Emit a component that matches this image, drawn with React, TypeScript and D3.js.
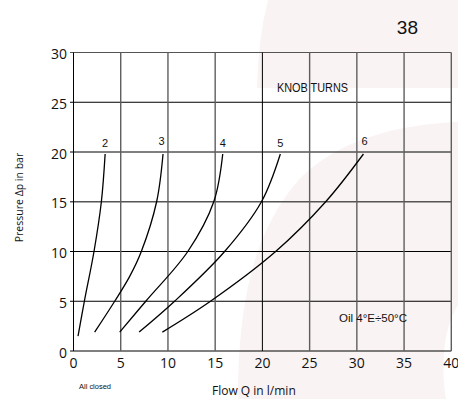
import React from "react";
import * as d3 from "d3";

const xTicks = [0, 5, 10, 15, 20, 25, 30, 35, 40];
const yTicks = [0, 5, 10, 15, 20, 25, 30];
const turnLabels = ["2", "3", "4", "5", "6"];
const curve2: [number, number][] = [[0.48, 1.5], [1.15, 5], [2.17, 10], [2.95, 15], [3.35, 19.8]];
const curve3: [number, number][] = [[2.24, 1.9], [4.36, 5], [5.95, 7.5], [7.18, 10], [8.8, 15], [9.48, 19.8]];
const curve4: [number, number][] = [[4.89, 1.9], [7.65, 5], [12.1, 10], [14.85, 15], [15.8, 19.8]];
const curve5: [number, number][] = [[6.95, 1.9], [10.7, 5], [16.0, 10], [19.9, 15], [21.9, 19.8]];
const curve6: [number, number][] = [[9.41, 1.9], [14.5, 5], [21.4, 10], [26.7, 15], [30.7, 19.8]];
const curves = [curve2, curve3, curve4, curve5, curve6];

const W = 458;
const H = 399;

export default function App() {
  const x = d3.scaleLinear().domain([0, 40]).range([73.5, 451.3]);
  const y = d3.scaleLinear().domain([0, 30]).range([351, 52.5]);
  const line = d3
    .line<[number, number]>()
    .x((d) => x(d[0]))
    .y((d) => y(d[1]))
    .curve(d3.curveCatmullRom.alpha(0.5));

  const tickFont = "'Open Sans', sans-serif";
  const arial = "'Liberation Sans', Arial, sans-serif";
  const grayV = (v: number) => v !== 0 && v !== 20;

  return (
    <svg
      width={W}
      height={H}
      style={{ position: "absolute", left: 0, top: 0, background: "#fff" }}
    >
      {/* watermark */}
      <path d="M268,0 L458,0 L458,88 L257,88 Q258,40 268,0 Z" fill="#f9f3f3" />
      <path
        d="M458,122 C400,124 330,140 292,188 C255,235 238,300 238,399 L446,399 C440,360 445,325 458,305 Z"
        fill="#f9f3f3"
      />

      {/* horizontal grid */}
      {yTicks.map((t) => (
        <line
          key={"h" + t}
          x1={70}
          x2={x(40)}
          y1={y(t)}
          y2={y(t)}
          stroke={t === 15 || t === 30 ? "#555" : "#000"}
          strokeWidth={t === 15 ? 1.4 : 1}
        />
      ))}
      {/* vertical grid */}
      {xTicks.map((t) => (
        <line
          key={"v" + t}
          x1={x(t)}
          x2={x(t)}
          y1={y(30)}
          y2={y(0)}
          stroke={grayV(t) ? "#5e5e5e" : "#000"}
          strokeWidth={grayV(t) ? 1.4 : 1}
        />
      ))}

      {/* y tick labels */}
      {yTicks.map((t) => (
        <text
          key={"yl" + t}
          x={67}
          y={y(t) + (t === 0 ? 7 : 6.5)}
          textAnchor="end"
          fontFamily={tickFont}
          fontSize={14}
          fill="#111"
        >
          {t}
        </text>
      ))}
      {/* x tick labels */}
      {xTicks.map((t) => (
        <text
          key={"xl" + t}
          x={x(t)}
          y={368}
          textAnchor="middle"
          fontFamily={tickFont}
          fontSize={14}
          fill="#111"
        >
          {t}
        </text>
      ))}

      {/* curves */}
      {curves.map((c, i) => (
        <path key={"c" + i} d={line(c) || ""} fill="none" stroke="#000" strokeWidth={1.3} />
      ))}
      {/* curve labels */}
      {curves.map((c, i) => {
        const last = c[c.length - 1];
        return (
          <text
            key={"cl" + i}
            x={x(last[0]) + (i === 4 ? 1 : i === 1 ? -1.5 : 0)}
            y={i === 1 || i === 4 ? 144.5 : 146.5}
            textAnchor="middle"
            fontFamily={arial}
            fontSize={11}
            fill="#111"
          >
            {turnLabels[i]}
          </text>
        );
      })}

      {/* annotations */}
      <text x={418} y={34} textAnchor="end" fontFamily={arial} fontSize={19} fill="#111">
        38
      </text>
      <text
        x={277}
        y={92}
        fontFamily={arial}
        fontSize={12}
        textLength={71}
        lengthAdjust="spacingAndGlyphs"
        fill="#111"
      >
        KNOB TURNS
      </text>
      <text
        x={339}
        y={322}
        fontFamily={arial}
        fontSize={11.5}
        textLength={68}
        lengthAdjust="spacingAndGlyphs"
        fill="#111"
      >
        Oil 4°E÷50°C
      </text>
      <text
        x={79}
        y={389}
        fontFamily={arial}
        fontSize={8}
        textLength={32}
        lengthAdjust="spacingAndGlyphs"
        fill="#111"
      >
        All closed
      </text>
      <text x={212} y={395} fontFamily={tickFont} fontSize={12} fill="#111">
        Flow Q in l/min
      </text>
      <text
        transform="translate(23,197.5) rotate(-90)"
        textAnchor="middle"
        fontFamily={tickFont}
        fontSize={10.5}
        fill="#111"
      >
        Pressure Δp in bar
      </text>
    </svg>
  );
}
